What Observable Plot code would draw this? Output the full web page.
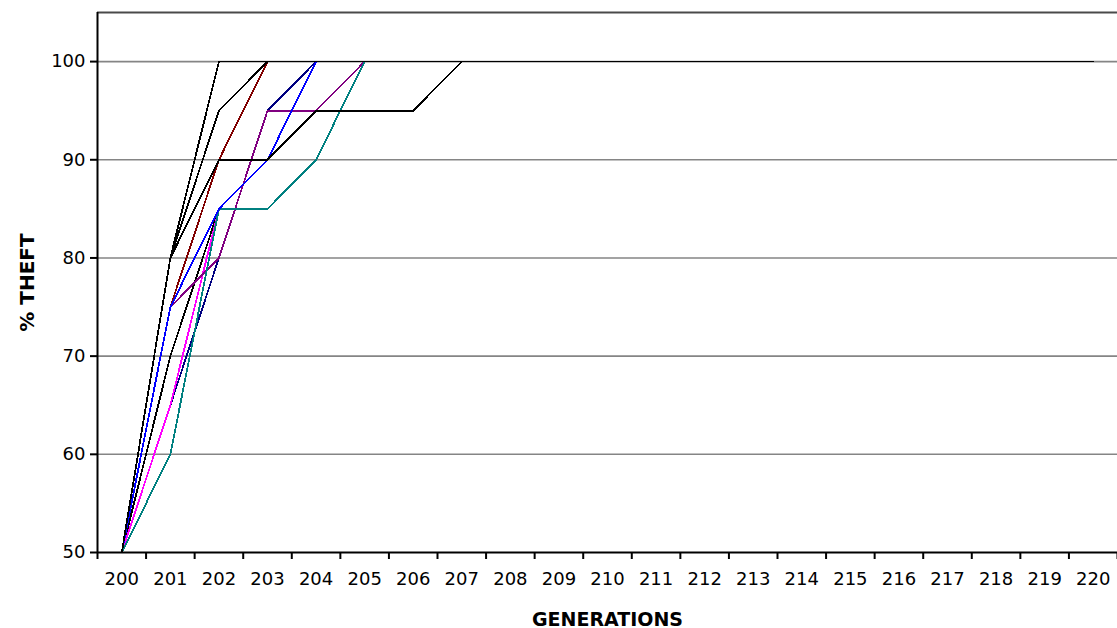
<!DOCTYPE html>
<html><head><meta charset="utf-8">
<script src="https://cdn.jsdelivr.net/npm/d3@7"></script>
<script src="https://cdn.jsdelivr.net/npm/@observablehq/plot@0.6"></script>
<style>html,body{margin:0;padding:0;background:#fff}</style>
</head><body><div id="chart"></div>
<script>
const generations = [200,201,202,203,204,205,206,207,208,209,210,211,212,213,214,215,216,217,218,219,220];
const yTicks = [50,60,70,80,90,100];

const blackD  = [50,70,85,90,100,100,100,100,100,100,100,100,100,100,100,100,100,100,100,100,100];
const maroon  = [50,75,90,100,100,100,100,100,100,100,100,100,100,100,100,100,100,100,100,100,100];
const navy    = [50,65,80,95,100,100,100,100,100,100,100,100,100,100,100,100,100,100,100,100,100];
const magenta = [50,65,85,85,90,100,100,100,100,100,100,100,100,100,100,100,100,100,100,100,100];
const purple  = [50,75,80,95,95,100,100,100,100,100,100,100,100,100,100,100,100,100,100,100,100];
const teal    = [50,60,85,85,90,100,100,100,100,100,100,100,100,100,100,100,100,100,100,100,100];
const blue    = [50,75,85,90,100,100,100,100,100,100,100,100,100,100,100,100,100,100,100,100,100];
const blackB  = [50,80,95,100,100,100,100,100,100,100,100,100,100,100,100,100,100,100,100,100,100];
const blackA  = [50,80,100,100,100,100,100,100,100,100,100,100,100,100,100,100,100,100,100,100,100];
const blackC  = [50,80,90,90,95,95,95,100,100,100,100,100,100,100,100,100,100,100,100,100,100];

const seriesList = [
  {values: blackD, color: "#000000"},
  {values: maroon, color: "#800000"},
  {values: navy, color: "#000080"},
  {values: magenta, color: "#FF00FF"},
  {values: purple, color: "#800080"},
  {values: teal, color: "#008080"},
  {values: blue, color: "#0000FF"},
  {values: blackB, color: "#000000"},
  {values: blackA, color: "#000000"},
  {values: blackC, color: "#000000"}
];

const boundaries = generations.map(g => g - 0.5).concat([generations[generations.length-1] + 0.5]);

const chart = Plot.plot({
  width: 1117, height: 628,
  marginLeft: 97, marginRight: 0, marginTop: 12, marginBottom: 76,
  x: {domain: [199.5, 220.5]},
  y: {domain: [50, 105]},
  style: {fontFamily: "'DejaVu Sans', sans-serif", fontSize: "18px", color: "#000", background: "#fff", overflow: "visible"},
  marks: [
    Plot.ruleY(yTicks.slice(1), {stroke: "#858585", strokeWidth: 1.6}),
    Plot.ruleY([105], {stroke: "#4a4a4a", strokeWidth: 2}),
    ...seriesList.map(s => Plot.lineY(s.values, {x: generations, y: d => d, stroke: s.color, strokeWidth: 1.8, shapeRendering: "crispEdges"})),
    Plot.axisY({ticks: yTicks, tickSize: 7, tickPadding: 5, tickFormat: d => String(d), label: null, strokeWidth: 2}),
    Plot.axisX({ticks: boundaries, tickSize: 7, tickFormat: () => "", label: null, strokeWidth: 2}),
    Plot.axisX({ticks: generations, tickSize: 0, tickPadding: 20, tickFormat: d => String(d), label: null}),
    Plot.ruleX([199.5], {stroke: "#000", strokeWidth: 2}),
    Plot.ruleY([50], {stroke: "#000", strokeWidth: 2}),
    Plot.text(["GENERATIONS"], {frameAnchor: "bottom", dy: 67, text: d => d, fontWeight: "bold", fontSize: 19, lineAnchor: "middle"}),
    Plot.text(["% THEFT"], {frameAnchor: "left", dx: -70, rotate: -90, text: d => d, fontWeight: "bold", fontSize: 20, letterSpacing: "1px", lineAnchor: "middle", textAnchor: "middle"})
  ]
});
document.getElementById("chart").appendChild(chart);
</script>
</body></html>
